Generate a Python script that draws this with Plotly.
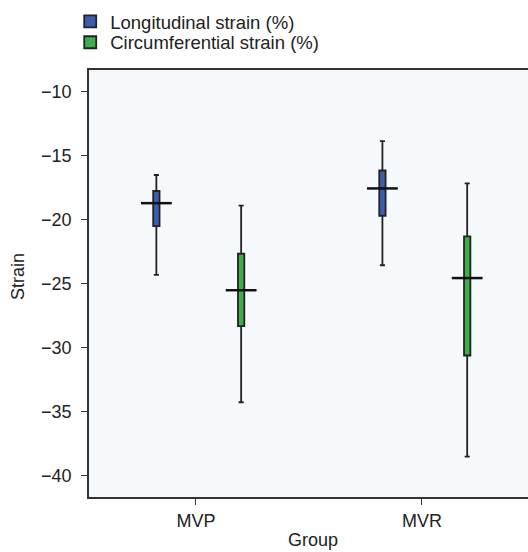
import plotly.graph_objects as go

# Data
groups = ["MVP", "MVR"]
group_pos = [0, 1]

long_upper = [-16.5, -13.85]
long_q3 = [-17.75, -16.15]
long_median = [-18.7, -17.55]
long_q1 = [-20.5, -19.7]
long_lower = [-24.3, -23.55]

circ_upper = [-18.9, -17.15]
circ_q3 = [-22.65, -21.3]
circ_median = [-25.5, -24.55]
circ_q1 = [-28.3, -30.6]
circ_lower = [-34.25, -38.5]

y_ticks = [-10, -15, -20, -25, -30, -35, -40]

series = [
    dict(name="Longitudinal strain (%)", offset=-0.175, color="#3A5DAE", legend="legend", ly=0.995,
         lower=long_lower, q1=long_q1, med=long_median, q3=long_q3, upper=long_upper),
    dict(name="Circumferential strain (%)", offset=0.2, color="#3DAE4A", legend="legend2", ly=0.957,
         lower=circ_lower, q1=circ_q1, med=circ_median, q3=circ_q3, upper=circ_upper),
]

FONT = "Liberation Sans, Arial, sans-serif"
fig = go.Figure()
for s in series:
    xs = [g + s["offset"] for g in group_pos]
    fig.add_trace(go.Box(
        x=xs, q1=s["q1"], median=s["med"], q3=s["q3"],
        lowerfence=s["lower"], upperfence=s["upper"],
        name=s["name"], width=0.028, whiskerwidth=0.8,
        fillcolor=s["color"], line=dict(color="#222222", width=1.8),
        boxpoints=False, showlegend=True, legend=s["legend"],
    ))
for s in series:
    xs = [g + s["offset"] for g in group_pos]
    fig.add_trace(go.Scatter(
        x=xs, y=s["med"], mode="markers", showlegend=False, hoverinfo="skip",
        marker=dict(symbol="line-ew", size=22, line=dict(color="#111111", width=2.5)),
    ))

legend_common = dict(xref="container", yref="container", x=0.133, xanchor="left",
                     yanchor="top", font=dict(size=18.5), bgcolor="rgba(0,0,0,0)",
                     borderwidth=0)

fig.update_layout(
    width=528, height=552,
    margin=dict(l=89, r=0, t=70, b=55, autoexpand=False),
    paper_bgcolor="white", plot_bgcolor="#F5F9FC",
    font=dict(family=FONT, size=18, color="#222222"),
    legend=dict(y=series[0]["ly"], **legend_common),
    legend2=dict(y=series[1]["ly"], **legend_common),
    xaxis=dict(range=[-0.473, 1.469], tickvals=group_pos, ticktext=groups,
               showgrid=False, zeroline=False, showline=True, mirror=True,
               linecolor="#333333", linewidth=1.5, ticks="outside", ticklen=6,
               tickcolor="#333333", tickwidth=1.2, ticklabelstandoff=1),
    yaxis=dict(range=[-41.65, -8.3], tickvals=y_ticks,
               showgrid=False, zeroline=False, showline=True,
               linecolor="#333333", linewidth=1.5, ticks="outside", ticklen=6,
               tickcolor="#333333", tickwidth=1.2, ticklabelstandoff=6),
    annotations=[
        dict(text="Strain", xref="paper", yref="paper", x=-0.1617, y=0.515,
             xanchor="center", yanchor="middle", textangle=-90, showarrow=False,
             font=dict(size=18)),
        dict(text="Group", xref="paper", yref="paper", x=0.51, y=-0.101,
             xanchor="center", yanchor="middle", showarrow=False,
             font=dict(size=18)),
    ],
)

fig.write_html("out.html", config={"displayModeBar": False},
               post_script="document.body.style.margin='0px';")
